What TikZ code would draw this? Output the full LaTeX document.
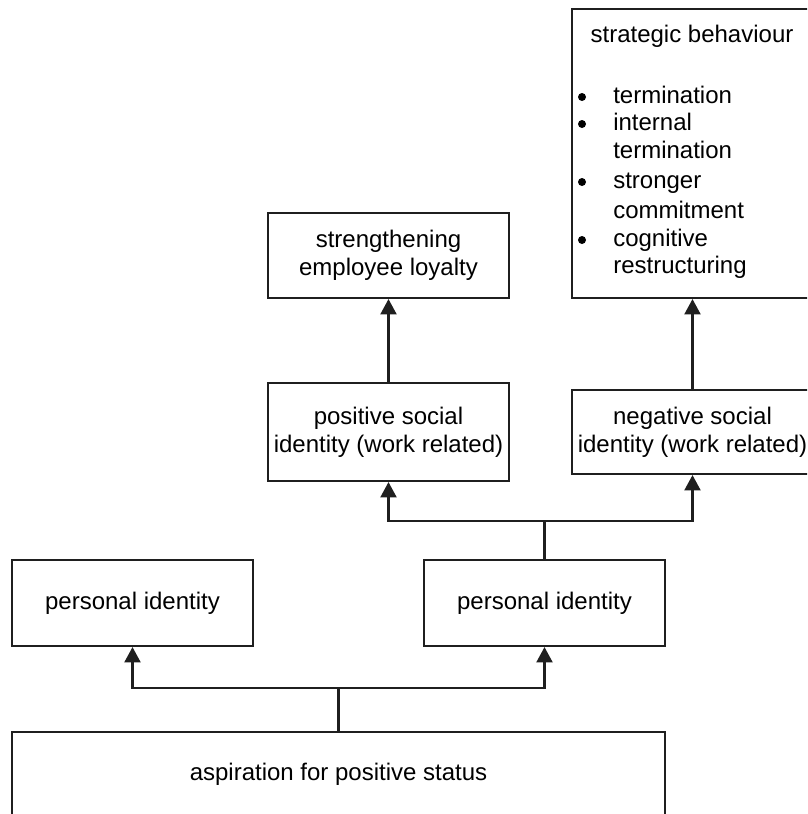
\documentclass[tikz,border=0pt]{standalone}
\usepackage{fontspec}
\setmainfont{Liberation Sans}
\usetikzlibrary{arrows.meta}
\begin{document}
\begin{tikzpicture}[x=0.75pt,y=-0.75pt,
  txt/.style={font=\fontsize{18}{21}\selectfont},
  box/.style={draw=black!88, line width=1.6pt, fill=white, inner sep=0pt,
    minimum width=180.75pt, align=center, txt},
  conn/.style={draw=black!88, line width=1.6pt},
  arr/.style={conn, -{Triangle[length=11.5pt,width=12pt]}},
  item/.style={inner sep=0pt, anchor=base west, txt},
  dot/.style={circle, fill=black, inner sep=0pt, minimum size=6pt}
]
\clip (0,0) rectangle (807,814);
\fill[white] (0,0) rectangle (807,814);

% boxes
\node[box, minimum width=180pt, minimum height=216.75pt] (strat) at (692,153.5) {};
\node[box, minimum height=63.75pt] (loyal) at (388.5,255.5) {strengthening\\employee loyalty};
\node[box, minimum height=73.5pt] (pos) at (388.5,432) {positive social\\identity (work related)};
\node[box, minimum height=63pt] (neg) at (692.5,432) {negative social\\identity (work related)};
\node[box, minimum height=64.5pt] (pers1) at (132.5,603) {personal identity};
\node[box, minimum height=64.5pt] (pers2) at (544.5,603) {personal identity};
\node[box, minimum width=489.75pt, minimum height=63pt] (asp) at (338.5,774) {aspiration for positive status};

% contents of the strategic behaviour box
\node[txt, inner sep=0pt] (stitle) at (692,36) {strategic behaviour};
\node[dot] (b1) at (582,97) {};
\node[dot] (b2) at (582,124) {};
\node[dot] (b3) at (582,182) {};
\node[dot] (b4) at (582,240) {};
\node[item] (l1) at (613,103) {termination};
\node[item] (l2) at (613,130) {internal};
\node[item] (l3) at (613,158) {termination};
\node[item] (l4) at (613,188) {stronger};
\node[item] (l5) at (613,218) {commitment};
\node[item] (l6) at (613,246) {cognitive};
\node[item] (l7) at (613,273) {restructuring};

% connectors
\draw[arr] (pos.north) -- (loyal.south);
\draw[arr] (neg.north) -- (neg.north |- strat.south);

\coordinate (ub) at (544.5,521);
\draw[conn] (pers2.north) -- (ub);
\draw[arr] (ub) -| (pos.south);
\draw[arr] (ub) -| (neg.south);

\coordinate (lb) at (338.5,688);
\draw[conn] (asp.north) -- (lb);
\draw[arr] (lb) -| (pers1.south);
\draw[arr] (lb) -| (pers2.south);
\end{tikzpicture}
\end{document}
